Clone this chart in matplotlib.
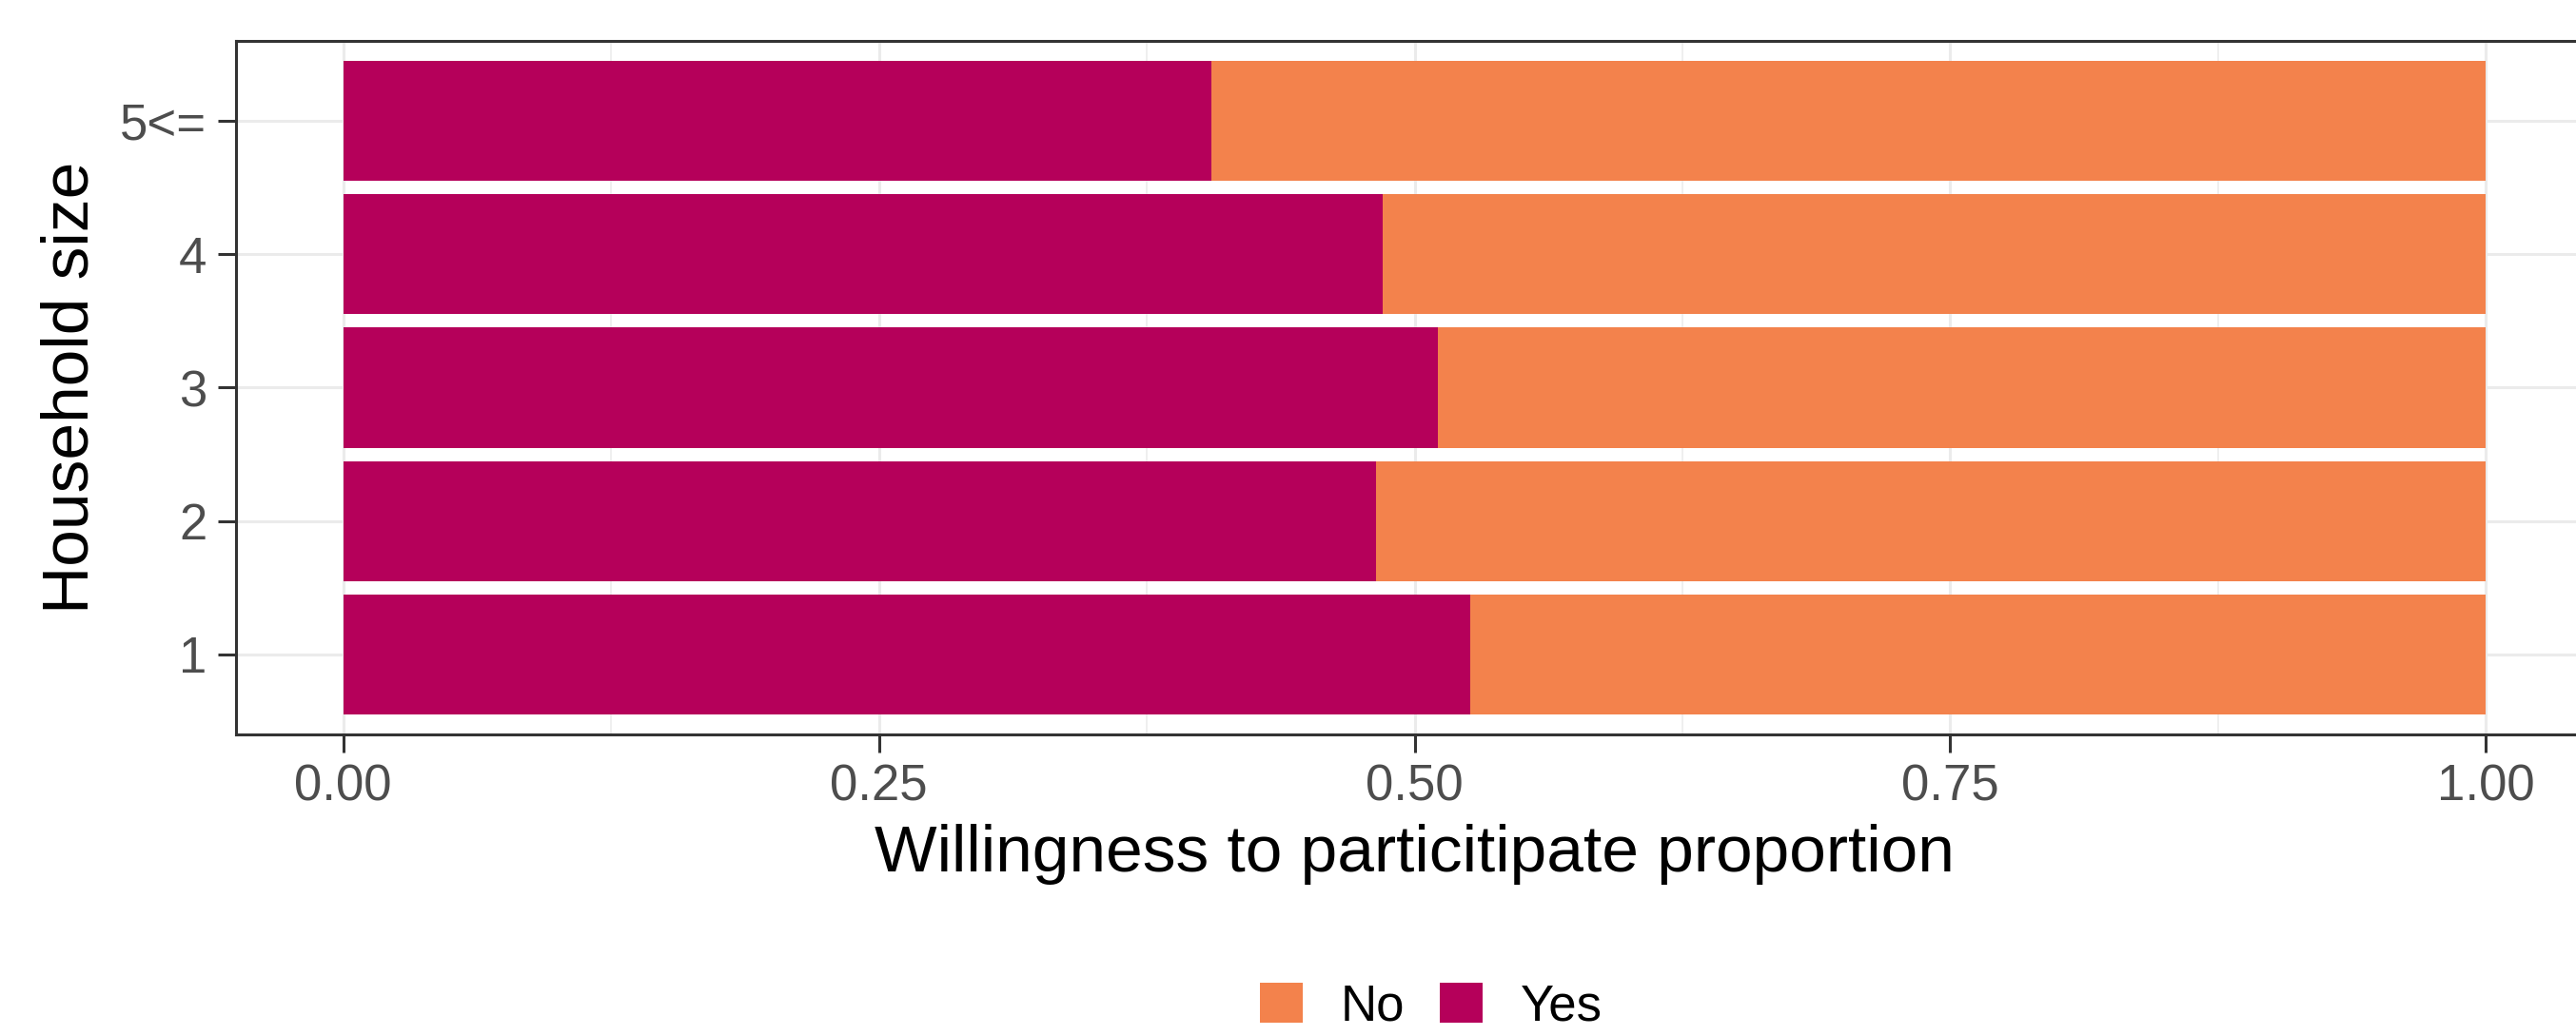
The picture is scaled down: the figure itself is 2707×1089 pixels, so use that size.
import matplotlib
matplotlib.use("Agg")
import matplotlib.pyplot as plt
from matplotlib.patches import Patch
import numpy as np

plt.rcParams['font.family'] = ['Liberation Sans', 'DejaVu Sans']

categories = ["1", "2", "3", "4", "5<="]
yes_prop = [0.526, 0.482, 0.511, 0.485, 0.405]
no_prop = [1 - v for v in yes_prop]
x_ticks = [0.00, 0.25, 0.50, 0.75, 1.00]
x_tick_labels = ["0.00", "0.25", "0.50", "0.75", "1.00"]

col_yes = "#B5005A"
col_no = "#F3824C"

W, H = 2707, 1089
fig = plt.figure(figsize=(W / 100, H / 100), dpi=100)
ax = fig.add_axes([248 / W, 1 - 772 / H, (2725 - 248) / W, (772 - 43) / H])

ypos = np.arange(len(categories))
ax.barh(ypos, yes_prop, height=0.9, color=col_yes, linewidth=0, zorder=2)
ax.barh(ypos, no_prop, left=yes_prop, height=0.9, color=col_no, linewidth=0, zorder=2)

ax.set_xlim(-0.05, 1.05)
ax.set_ylim(-0.6, len(categories) - 0.4)
ax.set_xticks(x_ticks)
ax.set_xticklabels(x_tick_labels)
ax.set_xticks([0.125, 0.375, 0.625, 0.875], minor=True)
ax.set_yticks(ypos)
ax.set_yticklabels(categories)

ax.grid(True, which='major', color='#EBEBEB', linewidth=2.2, zorder=0)
ax.grid(True, which='minor', axis='x', color='#EBEBEB', linewidth=1.1, zorder=0)
ax.set_axisbelow(True)

for s in ax.spines.values():
    s.set_color('#333333')
    s.set_linewidth(2.2)

ax.tick_params(axis='both', which='major', length=14, width=2.2, color='#333333',
               labelsize=38, labelcolor='#4D4D4D')
ax.tick_params(axis='x', which='major', pad=8)
ax.tick_params(axis='y', which='major', pad=8)
ax.tick_params(which='minor', length=0)

ax.set_xlabel("Willingness to particitipate proportion", fontsize=50, color='black', labelpad=10)
ax.set_ylabel("Household size", fontsize=50, color='black', labelpad=14)

handles = [Patch(facecolor=col_no, edgecolor='none', label='No'),
           Patch(facecolor=col_yes, edgecolor='none', label='Yes')]
fig.legend(handles=handles, loc='center', bbox_to_anchor=(1504 / W, 1 - 1058 / H),
           ncol=2, frameon=False, fontsize=38, handlelength=0.85, handleheight=0.85,
           handletextpad=0.75, columnspacing=0.7, borderpad=0)

fig.savefig("out.png", dpi=100)
